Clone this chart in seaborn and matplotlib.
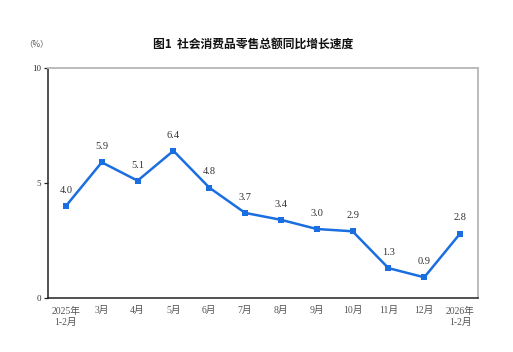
import matplotlib
matplotlib.use("Agg")
import matplotlib.pyplot as plt
import seaborn as sns
import pandas as pd
import numpy as np

categories = ["2025年\n1-2月", "3月", "4月", "5月", "6月", "7月", "8月", "9月", "10月", "11月", "12月", "2026年\n1-2月"]
values = [4.0, 5.9, 5.1, 6.4, 4.8, 3.7, 3.4, 3.0, 2.9, 1.3, 0.9, 2.8]
y_ticks = [0, 5, 10]
title = "图1  社会消费品零售总额同比增长速度"
unit = "（%）"

sns.set_theme(style="white")
plt.rcParams['font.family'] = ['Liberation Serif', 'Noto Sans CJK SC', 'DejaVu Sans']

df = pd.DataFrame({"pos": np.arange(len(categories)), "value": values})

fig = plt.figure(figsize=(5.13, 3.52), dpi=100)
ax = fig.add_axes([48/513, 1-298/352, 430/513, 230/352])
color = "#1a6ee0"
sns.lineplot(data=df, x="pos", y="value", ax=ax, color=color, linewidth=1.8,
             marker="s", markersize=4.6, markeredgewidth=0, markerfacecolor=color)

ax.set_xlim(-0.5, len(categories) - 0.5)
ax.set_ylim(0, 10)
ax.set_yticks(y_ticks)
ax.set_yticklabels([str(t) for t in y_ticks], fontsize=6.5, color="#333333")
ax.set_xticks(np.arange(len(categories)))
ax.set_xticklabels(categories, fontsize=7, color="#555555", linespacing=1.35)
ax.tick_params(axis="x", which="major", length=0, pad=6)
ax.set_xticks(np.arange(len(categories) - 1) + 0.5, minor=True)
ax.tick_params(axis="x", which="minor", direction="in", length=3, width=0.9, color="#222222")
ax.tick_params(axis="y", direction="out", length=3, width=0.9, color="#222222", pad=2, left=True)
ax.set_xlabel("")
ax.set_ylabel("")

for s in ["left", "bottom"]:
    ax.spines[s].set_color("#222222")
    ax.spines[s].set_linewidth(1.1)
for s in ["top", "right"]:
    ax.spines[s].set_color("#bbbbbb")
    ax.spines[s].set_linewidth(1.4)

for x, v in zip(df["pos"], values):
    ax.annotate(f"{v:.1f}", (x, v), xytext=(0, 8), textcoords="offset points",
                ha="center", va="bottom", fontsize=7.5, color="#333333")

fig.text(253/513, 1-44/352, title, ha="center", va="center", fontsize=8.5,
         fontweight="bold", family=['Noto Sans CJK SC', 'DejaVu Sans'], color="#111111")
fig.text(36/513, 1-44/352, unit, ha="center", va="center", fontsize=6,
         family=['Noto Sans CJK SC', 'DejaVu Sans'], color="#555555")

fig.savefig("out.png", dpi=100)
